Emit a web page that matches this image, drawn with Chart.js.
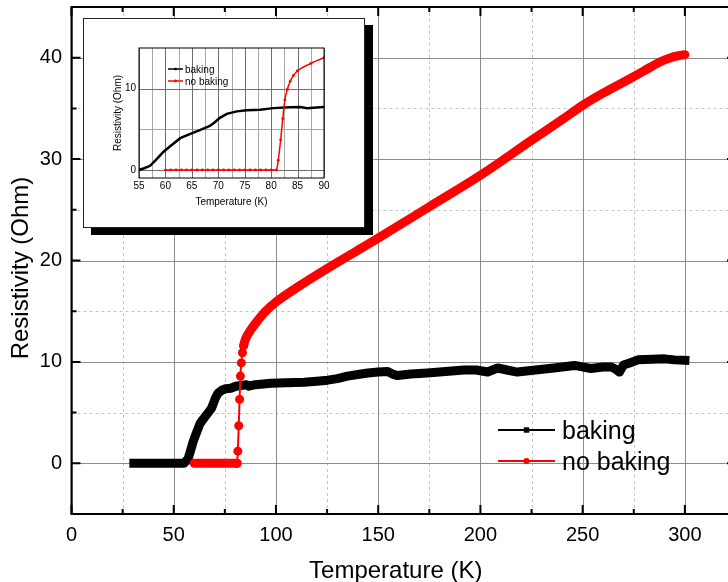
<!DOCTYPE html>
<html>
<head>
<meta charset="utf-8">
<script src="https://cdn.jsdelivr.net/npm/chart.js@4.4.1/dist/chart.umd.min.js"></script>
<style>
  html, body { margin: 0; padding: 0; background: #fff; overflow: hidden; }
  #wrap { position: relative; width: 736px; height: 582px; }
  #mainChart { position: absolute; left: 0; top: 0; }
  #insetBox {
    position: absolute; left: 83px; top: 18px; width: 280px; height: 208px;
    border: 1px solid #222; background: #fff; box-shadow: 8px 7px 0 #000;
  }
  #insetChart { position: absolute; left: 0; top: 0; }
</style>
</head>
<body>
<div id="wrap">
  <canvas id="mainChart" width="736" height="582"></canvas>
  <div id="insetBox"><canvas id="insetChart" width="280" height="208"></canvas></div>
</div>
<script>
const FONT = "'Liberation Sans', Arial, Helvetica, sans-serif";

// data: temperature (K) and resistivity (Ohm)
const bakingTemp = [30.5, 40, 50, 55, 56, 57.1, 58.3, 59.6, 60.9, 62.8, 64.6, 66.5, 68.4, 69.4,
  70.3, 71.6, 73.5, 75.4, 77.9, 80.4, 83.6, 85.5, 86.8, 89.9, 97.6, 105, 113.8, 120, 125.3,
  130, 135, 140, 145, 150, 154.6, 157, 159.5, 166, 174, 183, 192, 198, 203.5, 208.4, 213,
  218, 227, 236, 246, 254, 260, 264, 266, 268, 270, 273, 277, 284, 290, 295, 300];
const bakingRes = [0, 0, 0, 0, 0.2, 0.5, 1.3, 2.2, 2.9, 3.9, 4.4, 4.9, 5.4, 5.9,
  6.4, 6.9, 7.2, 7.35, 7.4, 7.6, 7.7, 7.75, 7.6, 7.75, 7.9, 7.95, 8.0, 8.1, 8.2,
  8.35, 8.6, 8.75, 8.9, 9.0, 9.05, 8.8, 8.65, 8.8, 8.9, 9.05, 9.2, 9.2, 9.0, 9.4, 9.2,
  9.0, 9.2, 9.4, 9.65, 9.35, 9.5, 9.5, 9.3, 9.0, 9.7, 9.9, 10.2, 10.25, 10.3, 10.2, 10.15];

const noBakingTemp = [60, 61, 62, 63, 64, 65, 66, 67, 68, 69, 70, 71, 72, 73, 74, 75, 76, 77,
  78, 79, 80, 81, 81.35, 81.8, 82.2, 82.6, 83.06, 83.6, 84.2, 85, 87.5, 90, 95, 100, 110,
  125, 150, 175, 200, 225, 240, 250, 260, 272, 280, 288, 293, 297, 300];
const noBakingRes = [0, 0, 0, 0, 0, 0, 0, 0, 0, 0, 0, 0, 0, 0, 0, 0, 0, 0,
  0, 0, 0, 0, 1.2, 3.7, 6.3, 8.6, 9.9, 10.9, 11.6, 12.2, 13.1, 13.8, 15.0, 15.9, 17.3,
  19.2, 22.2, 25.3, 28.4, 31.85, 33.9, 35.3, 36.5, 37.8, 38.7, 39.6, 40.0, 40.2, 40.3];

// the transition of "no baking" has few measured points (drawn as separate markers)
const riseFrom = 81;
const riseTo = 84.2;

const seriesNames = ['baking', 'no baking'];

// axis values for the main plot
const mainXMajor = [0, 50, 100, 150, 200, 250, 300];
const mainXMinor = [25, 75, 125, 175, 225, 275, 325];
const mainYMajor = [0, 10, 20, 30, 40];
const mainYMinor = [-5, 5, 15, 25, 35, 45];

// axis values for the inset
const insetXMajor = [55, 60, 65, 70, 75, 80, 85, 90];
const insetXMinor = [57.5, 62.5, 67.5, 72.5, 77.5, 82.5, 87.5];
const insetYMajor = [0, 10];
const insetYMinor = [5];

const toPoints = (xs, ys) => xs.map((x, i) => ({ x: x, y: ys[i] }));
const inRise = x => x >= riseFrom && x <= riseTo;

// grid, frame and inward ticks drawn around the chart area
function axesPlugin(cfg) {
    return {
        id: 'axes',
        beforeDatasetsDraw(chart) {
            const { ctx, chartArea: a, scales: { x, y } } = chart;
            ctx.save();
            ctx.lineWidth = 1;
            const vline = v => {
                const px = Math.round(x.getPixelForValue(v)) + 0.5;
                ctx.beginPath(); ctx.moveTo(px, a.top); ctx.lineTo(px, a.bottom); ctx.stroke();
            };
            const hline = v => {
                const py = Math.round(y.getPixelForValue(v)) + 0.5;
                ctx.beginPath(); ctx.moveTo(a.left, py); ctx.lineTo(a.right, py); ctx.stroke();
            };
            ctx.strokeStyle = cfg.minorColor;
            ctx.setLineDash(cfg.minorDash);
            cfg.xMinor.forEach(vline);
            cfg.yMinor.forEach(hline);
            ctx.strokeStyle = cfg.majorColor;
            ctx.setLineDash([]);
            cfg.xMajor.forEach(vline);
            cfg.yMajor.forEach(hline);
            ctx.restore();
        },
        afterDatasetsDraw(chart) {
            const { ctx, chartArea: a, scales: { x, y } } = chart;
            ctx.save();
            ctx.strokeStyle = '#000';
            ctx.lineWidth = cfg.frameWidth;
            if (cfg.tickMajor > 0) {
                const xt = (v, len) => {
                    const px = x.getPixelForValue(v);
                    ctx.beginPath(); ctx.moveTo(px, a.bottom); ctx.lineTo(px, a.bottom - len);
                    ctx.moveTo(px, a.top); ctx.lineTo(px, a.top + len); ctx.stroke();
                };
                const yt = (v, len) => {
                    const py = y.getPixelForValue(v);
                    ctx.beginPath(); ctx.moveTo(a.left, py); ctx.lineTo(a.left + len, py);
                    ctx.moveTo(a.right, py); ctx.lineTo(a.right - len, py); ctx.stroke();
                };
                cfg.xMajor.forEach(v => xt(v, cfg.tickMajor));
                cfg.xMinor.forEach(v => xt(v, cfg.tickMinor));
                cfg.yMajor.forEach(v => yt(v, cfg.tickMajor));
                cfg.yMinor.forEach(v => yt(v, cfg.tickMinor));
            }
            ctx.strokeRect(a.left, a.top, a.right - a.left, a.bottom - a.top);
            ctx.restore();
        },
        afterDraw(chart) {
            const { ctx, chartArea: a } = chart;
            ctx.save();
            ctx.fillStyle = '#000';
            ctx.font = cfg.titleFont;
            ctx.textAlign = 'center';
            ctx.textBaseline = 'middle';
            ctx.fillText(cfg.xTitle, (a.left + a.right) / 2 + cfg.xTitleDx, cfg.xTitleY);
            ctx.translate(cfg.yTitleX, cfg.yTitleY);
            ctx.rotate(-Math.PI / 2);
            ctx.fillText(cfg.yTitle, 0, 0);
            ctx.restore();

            // legend
            const lg = cfg.legend;
            ctx.save();
            chart.data.datasets.forEach((ds, i) => {
                const ly = lg.y + i * lg.dy;
                ctx.strokeStyle = ds.borderColor;
                ctx.lineWidth = lg.lineWidth;
                ctx.beginPath(); ctx.moveTo(lg.x0, ly); ctx.lineTo(lg.x1, ly); ctx.stroke();
                const mx = (lg.x0 + lg.x1) / 2;
                ctx.fillStyle = ds.borderColor;
                if (ds.pointStyle === 'rect') {
                    ctx.fillRect(mx - lg.marker, ly - lg.marker, lg.marker * 2, lg.marker * 2);
                } else {
                    ctx.beginPath(); ctx.arc(mx, ly, lg.marker * 1.15, 0, Math.PI * 2); ctx.fill();
                }
                ctx.fillStyle = '#000';
                ctx.font = lg.font;
                ctx.textBaseline = 'alphabetic';
                ctx.fillText(ds.label, lg.textX, ly + lg.textDy);
            });
            ctx.restore();
        }
    };
}

function makeScales(o) {
    return {
        x: {
            type: 'linear', min: o.xMin, max: o.xMax,
            afterFit: s => { s.height = o.xHeight; s.paddingLeft = 0; s.paddingRight = 0; },
            grid: { display: false, drawTicks: false },
            border: { display: false },
            ticks: {
                stepSize: o.xStep, autoSkip: false, maxRotation: 0, includeBounds: false,
                padding: o.xPad, color: '#000', font: { family: FONT, size: o.tickSize },
                callback: o.xLabel
            }
        },
        y: {
            type: 'linear', min: o.yMin, max: o.yMax,
            afterFit: s => { s.width = o.yWidth; s.paddingTop = 0; s.paddingBottom = 0; },
            grid: { display: false, drawTicks: false },
            border: { display: false },
            ticks: {
                stepSize: o.yStep, autoSkip: false, includeBounds: false,
                padding: o.yPad, color: '#000', font: { family: FONT, size: o.tickSize },
                callback: o.yLabel
            }
        }
    };
}

// main chart
new Chart(document.getElementById('mainChart'), {
    type: 'line',
    data: {
        datasets: [
            {
                label: seriesNames[0], order: 1,
                data: toPoints(bakingTemp, bakingRes),
                borderColor: '#000000', backgroundColor: '#000000', pointStyle: 'rect',
                borderWidth: 9, borderCapStyle: 'square', borderJoinStyle: 'round',
                pointRadius: 0, pointHoverRadius: 0
            },
            {
                label: seriesNames[1], order: 0,
                data: toPoints(noBakingTemp, noBakingRes),
                borderColor: '#ff0000', backgroundColor: '#ff0000', pointStyle: 'circle',
                borderWidth: 9, borderCapStyle: 'round', borderJoinStyle: 'round',
                cubicInterpolationMode: 'monotone',
                pointRadius: ctx => (ctx.raw && inRise(ctx.raw.x)) ? 4.5 : 0,
                pointBorderWidth: 0, pointHoverRadius: 0,
                segment: {
                    borderWidth: ctx => (inRise(ctx.p0.parsed.x) && inRise(ctx.p1.parsed.x)) ? 2 : 9
                }
            }
        ]
    },
    options: {
        responsive: false, animation: false, devicePixelRatio: 1,
        layout: { padding: { top: 7, left: 0, right: 0, bottom: 0 } },
        plugins: { legend: { display: false }, tooltip: { enabled: false } },
        scales: makeScales({
            xMin: 0, xMax: 325, xStep: 25, xHeight: 68, xPad: 9,
            yMin: -5, yMax: 45, yStep: 5, yWidth: 71.5, yPad: 9.5, tickSize: 20,
            xLabel: v => (v % 50 === 0 && v <= 300) ? v : '',
            yLabel: v => (v % 10 === 0) ? v : ''
        })
    },
    plugins: [axesPlugin({
        xMajor: mainXMajor, xMinor: mainXMinor, yMajor: mainYMajor, yMinor: mainYMinor,
        majorColor: '#8c8c8c', minorColor: '#c4c4c4', minorDash: [3, 3],
        frameWidth: 2, tickMajor: 9, tickMinor: 5,
        titleFont: '24px ' + FONT,
        xTitle: 'Temperature (K)', xTitleDx: -8, xTitleY: 571,
        yTitle: 'Resistivity (Ohm)', yTitleX: 21, yTitleY: 268,
        legend: { x0: 498, x1: 555, y: 430, dy: 31, lineWidth: 2, marker: 2.7,
                  font: '25px ' + FONT, textX: 562, textDy: 9 }
    })]
});

// inset chart (zoom on the transition)
new Chart(document.getElementById('insetChart'), {
    type: 'line',
    data: {
        datasets: [
            {
                label: seriesNames[0], order: 1,
                data: toPoints(bakingTemp, bakingRes),
                borderColor: '#000000', backgroundColor: '#000000', pointStyle: 'rect',
                borderWidth: 2.5, pointRadius: 0, pointHoverRadius: 0
            },
            {
                label: seriesNames[1], order: 0,
                data: toPoints(noBakingTemp, noBakingRes),
                borderColor: '#ff0000', backgroundColor: '#ff0000', pointStyle: 'circle',
                cubicInterpolationMode: 'monotone',
                borderWidth: 1.5, pointRadius: 1.4, pointBorderWidth: 0, pointHoverRadius: 0
            }
        ]
    },
    options: {
        responsive: false, animation: false, devicePixelRatio: 1,
        layout: { padding: { top: 29, left: 0, right: 40, bottom: 0 } },
        plugins: { legend: { display: false }, tooltip: { enabled: false } },
        scales: makeScales({
            xMin: 55, xMax: 90, xStep: 5, xHeight: 49, xPad: 2,
            yMin: -1, yMax: 15, yStep: 10, yWidth: 55, yPad: 3, tickSize: 10,
            xLabel: v => v, yLabel: v => v
        })
    },
    plugins: [axesPlugin({
        xMajor: insetXMajor, xMinor: insetXMinor, yMajor: insetYMajor, yMinor: insetYMinor,
        majorColor: '#6e6e6e', minorColor: '#a8a8a8', minorDash: [],
        frameWidth: 1, tickMajor: 0, tickMinor: 0,
        titleFont: '10px ' + FONT,
        xTitle: 'Temperature (K)', xTitleDx: 0, xTitleY: 183,
        yTitle: 'Resistivity (Ohm)', yTitleX: 34, yTitleY: 94,
        legend: { x0: 84, x1: 99, y: 50, dy: 12, lineWidth: 1.5, marker: 1.2,
                  font: '10px ' + FONT, textX: 101, textDy: 3.6 }
    })]
});
</script>
</body>
</html>
